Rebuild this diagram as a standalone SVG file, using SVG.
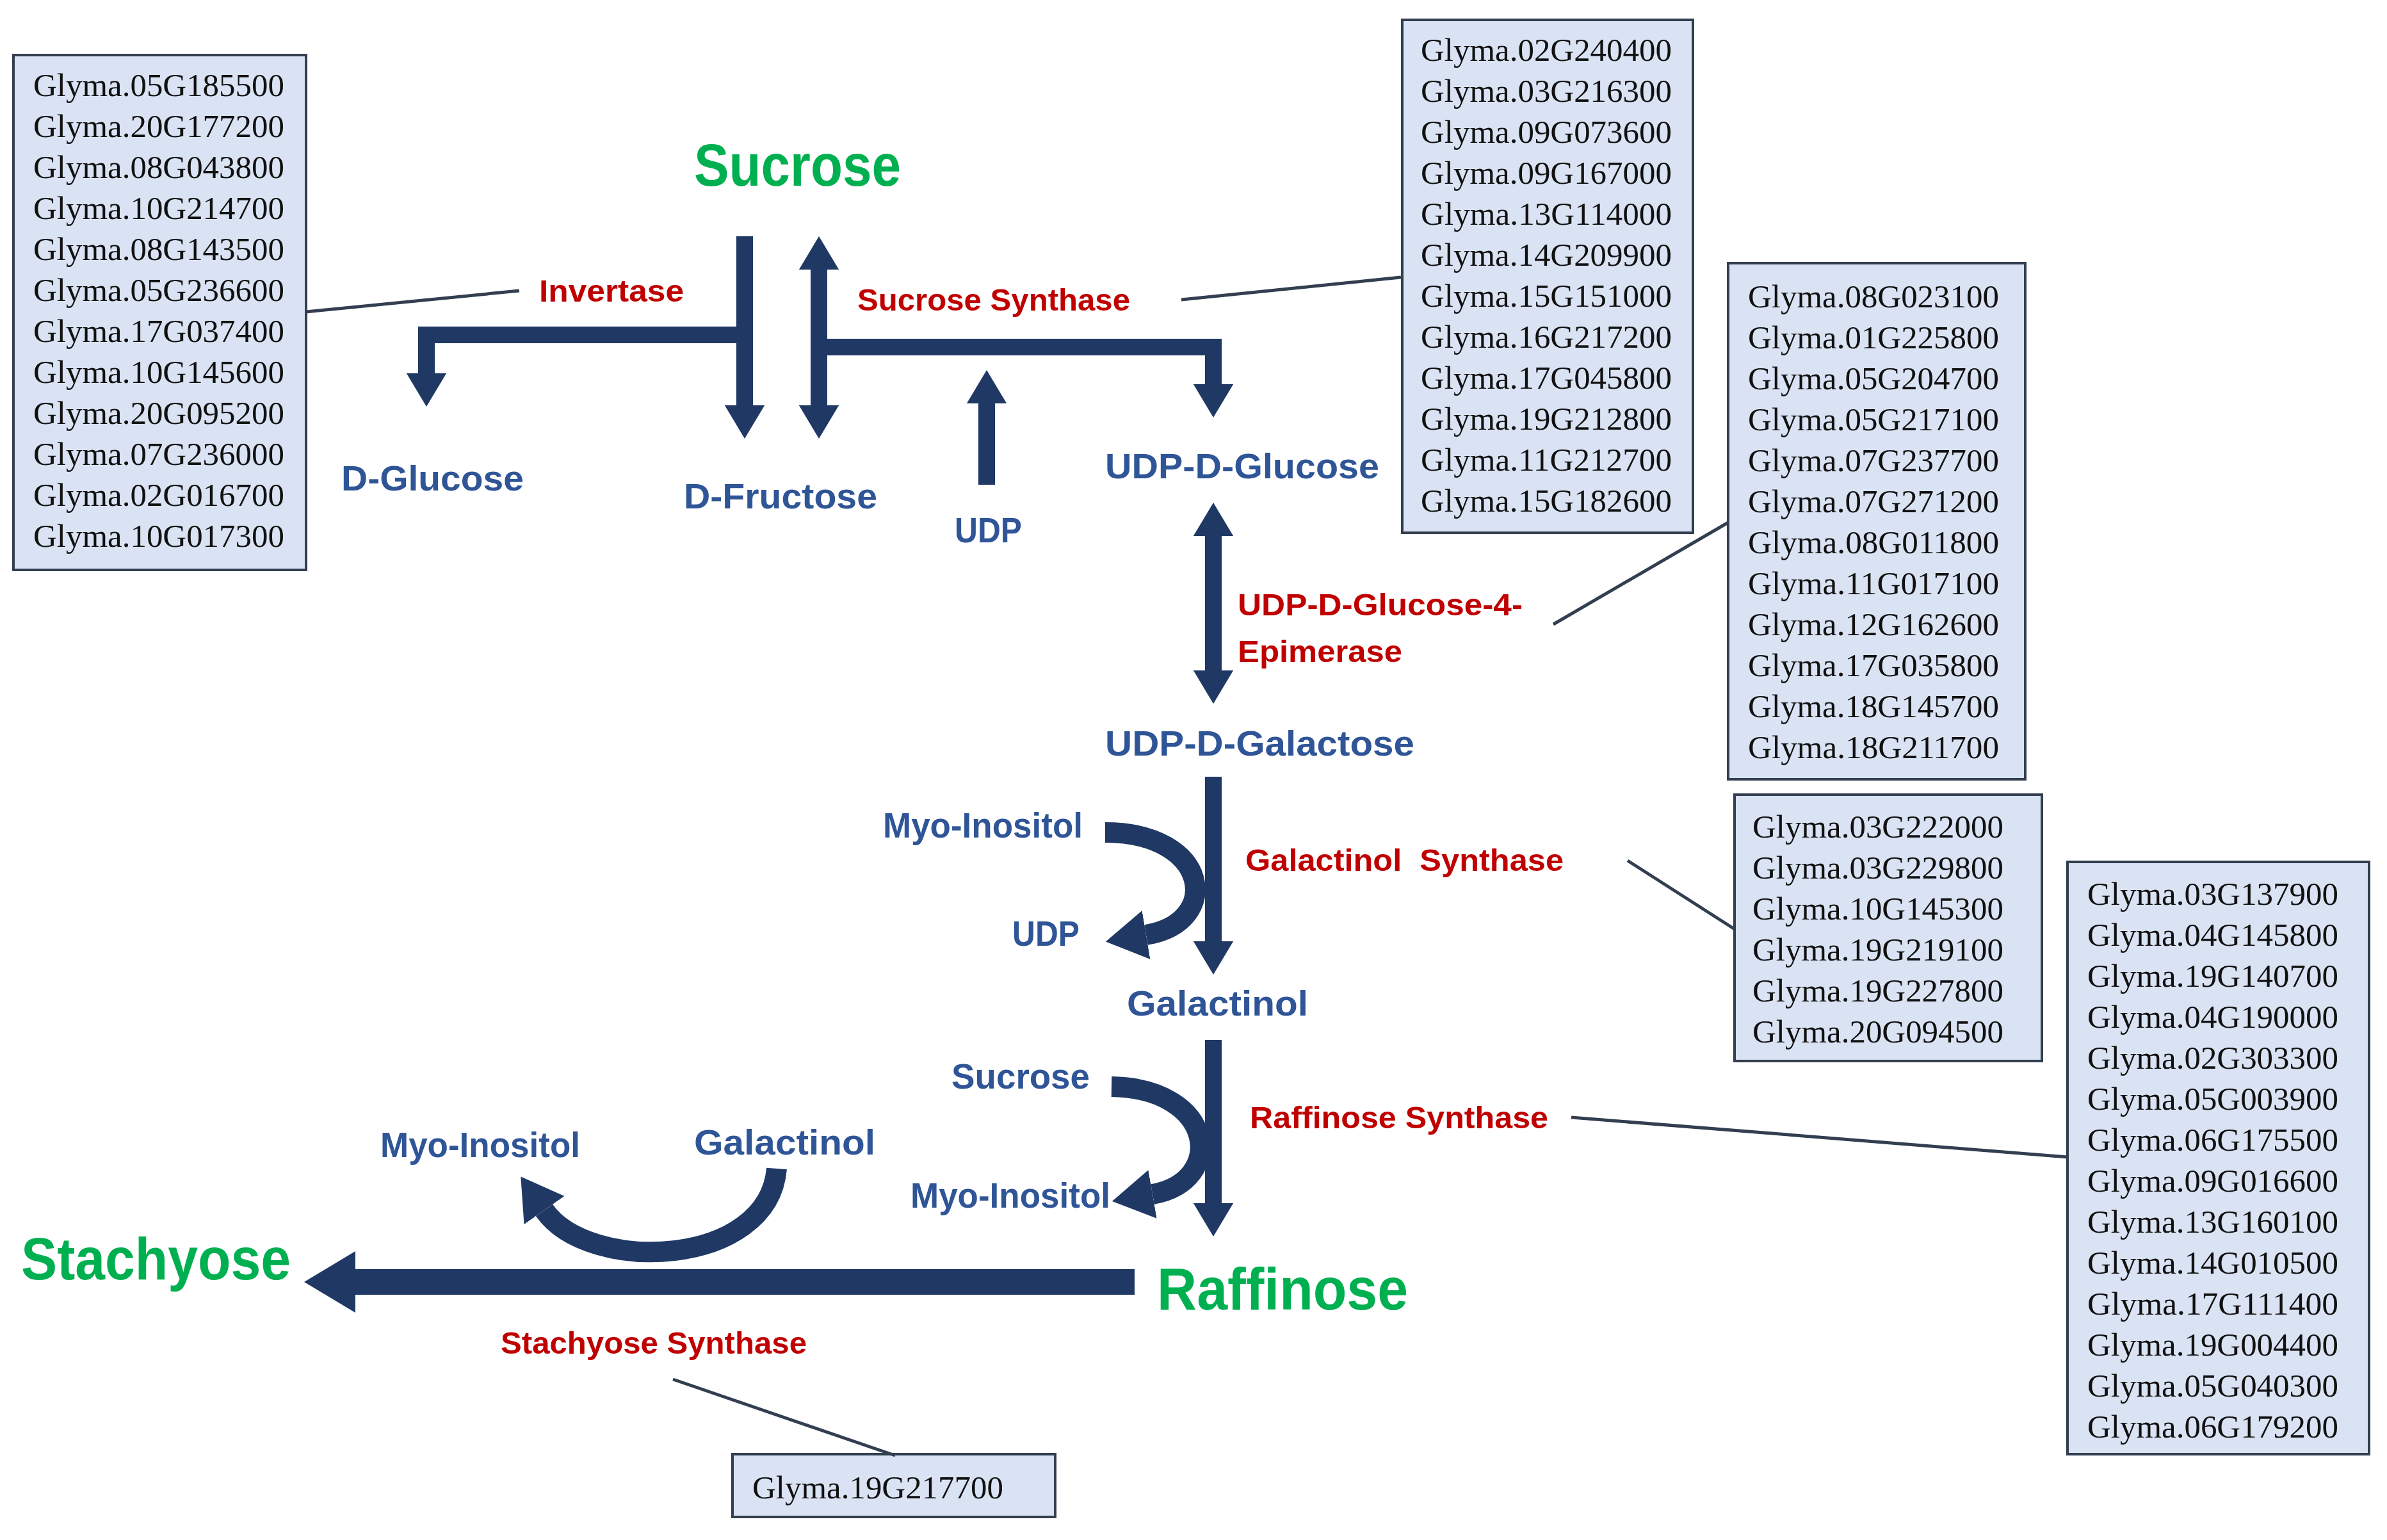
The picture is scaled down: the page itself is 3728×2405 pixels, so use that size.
<svg xmlns="http://www.w3.org/2000/svg" width="3728" height="2405" viewBox="0 0 3728 2405">
<style>
.box{fill:#DAE3F3;stroke:#333F50;stroke-width:4}
.g{font-family:"Liberation Serif",serif;font-size:50px;fill:#111}
.b{font-family:"Liberation Sans",sans-serif;font-weight:bold;fill:#2F5597;font-size:56px}
.r{font-family:"Liberation Sans",sans-serif;font-weight:bold;fill:#C00000;font-size:48px}
.gr{font-family:"Liberation Sans",sans-serif;font-weight:bold;fill:#00B050;font-size:92px}
.a{fill:none;stroke:#203864;stroke-width:26}
.ln{stroke:#333F50;stroke-width:5;fill:none}
</style>
<defs>
<marker id="h" viewBox="0 0 10 10" refX="0" refY="5" markerWidth="2" markerHeight="2.4" preserveAspectRatio="none" orient="auto-start-reverse"><path d="M0,0 L10,5 L0,10z" fill="#203864"/></marker>
</defs>
<rect width="3728" height="2405" fill="#fff"/>
<g id="box1"><rect class="box" x="21" y="86" width="457" height="804"/>
<g class="g">
<text x="52" y="150" textLength="392" lengthAdjust="spacingAndGlyphs">Glyma.05G185500</text>
<text x="52" y="214" textLength="392" lengthAdjust="spacingAndGlyphs">Glyma.20G177200</text>
<text x="52" y="278" textLength="392" lengthAdjust="spacingAndGlyphs">Glyma.08G043800</text>
<text x="52" y="342" textLength="392" lengthAdjust="spacingAndGlyphs">Glyma.10G214700</text>
<text x="52" y="406" textLength="392" lengthAdjust="spacingAndGlyphs">Glyma.08G143500</text>
<text x="52" y="470" textLength="392" lengthAdjust="spacingAndGlyphs">Glyma.05G236600</text>
<text x="52" y="534" textLength="392" lengthAdjust="spacingAndGlyphs">Glyma.17G037400</text>
<text x="52" y="598" textLength="392" lengthAdjust="spacingAndGlyphs">Glyma.10G145600</text>
<text x="52" y="662" textLength="392" lengthAdjust="spacingAndGlyphs">Glyma.20G095200</text>
<text x="52" y="726" textLength="392" lengthAdjust="spacingAndGlyphs">Glyma.07G236000</text>
<text x="52" y="790" textLength="392" lengthAdjust="spacingAndGlyphs">Glyma.02G016700</text>
<text x="52" y="854" textLength="392" lengthAdjust="spacingAndGlyphs">Glyma.10G017300</text>
</g></g>
<g id="box2"><rect class="box" x="2190" y="31" width="454" height="801"/>
<g class="g">
<text x="2219" y="95" textLength="392" lengthAdjust="spacingAndGlyphs">Glyma.02G240400</text>
<text x="2219" y="159" textLength="392" lengthAdjust="spacingAndGlyphs">Glyma.03G216300</text>
<text x="2219" y="223" textLength="392" lengthAdjust="spacingAndGlyphs">Glyma.09G073600</text>
<text x="2219" y="287" textLength="392" lengthAdjust="spacingAndGlyphs">Glyma.09G167000</text>
<text x="2219" y="351" textLength="392" lengthAdjust="spacingAndGlyphs">Glyma.13G114000</text>
<text x="2219" y="415" textLength="392" lengthAdjust="spacingAndGlyphs">Glyma.14G209900</text>
<text x="2219" y="479" textLength="392" lengthAdjust="spacingAndGlyphs">Glyma.15G151000</text>
<text x="2219" y="543" textLength="392" lengthAdjust="spacingAndGlyphs">Glyma.16G217200</text>
<text x="2219" y="607" textLength="392" lengthAdjust="spacingAndGlyphs">Glyma.17G045800</text>
<text x="2219" y="671" textLength="392" lengthAdjust="spacingAndGlyphs">Glyma.19G212800</text>
<text x="2219" y="735" textLength="392" lengthAdjust="spacingAndGlyphs">Glyma.11G212700</text>
<text x="2219" y="799" textLength="392" lengthAdjust="spacingAndGlyphs">Glyma.15G182600</text>
</g></g>
<g id="box3"><rect class="box" x="2699" y="411" width="464" height="806"/>
<g class="g">
<text x="2730" y="480" textLength="392" lengthAdjust="spacingAndGlyphs">Glyma.08G023100</text>
<text x="2730" y="544" textLength="392" lengthAdjust="spacingAndGlyphs">Glyma.01G225800</text>
<text x="2730" y="608" textLength="392" lengthAdjust="spacingAndGlyphs">Glyma.05G204700</text>
<text x="2730" y="672" textLength="392" lengthAdjust="spacingAndGlyphs">Glyma.05G217100</text>
<text x="2730" y="736" textLength="392" lengthAdjust="spacingAndGlyphs">Glyma.07G237700</text>
<text x="2730" y="800" textLength="392" lengthAdjust="spacingAndGlyphs">Glyma.07G271200</text>
<text x="2730" y="864" textLength="392" lengthAdjust="spacingAndGlyphs">Glyma.08G011800</text>
<text x="2730" y="928" textLength="392" lengthAdjust="spacingAndGlyphs">Glyma.11G017100</text>
<text x="2730" y="992" textLength="392" lengthAdjust="spacingAndGlyphs">Glyma.12G162600</text>
<text x="2730" y="1056" textLength="392" lengthAdjust="spacingAndGlyphs">Glyma.17G035800</text>
<text x="2730" y="1120" textLength="392" lengthAdjust="spacingAndGlyphs">Glyma.18G145700</text>
<text x="2730" y="1184" textLength="392" lengthAdjust="spacingAndGlyphs">Glyma.18G211700</text>
</g></g>
<g id="box4"><rect class="box" x="2709" y="1241" width="480" height="416"/>
<g class="g">
<text x="2737" y="1308" textLength="392" lengthAdjust="spacingAndGlyphs">Glyma.03G222000</text>
<text x="2737" y="1372" textLength="392" lengthAdjust="spacingAndGlyphs">Glyma.03G229800</text>
<text x="2737" y="1436" textLength="392" lengthAdjust="spacingAndGlyphs">Glyma.10G145300</text>
<text x="2737" y="1500" textLength="392" lengthAdjust="spacingAndGlyphs">Glyma.19G219100</text>
<text x="2737" y="1564" textLength="392" lengthAdjust="spacingAndGlyphs">Glyma.19G227800</text>
<text x="2737" y="1628" textLength="392" lengthAdjust="spacingAndGlyphs">Glyma.20G094500</text>
</g></g>
<g id="box5"><rect class="box" x="3229" y="1346" width="471" height="925"/>
<g class="g">
<text x="3260" y="1413" textLength="392" lengthAdjust="spacingAndGlyphs">Glyma.03G137900</text>
<text x="3260" y="1477" textLength="392" lengthAdjust="spacingAndGlyphs">Glyma.04G145800</text>
<text x="3260" y="1541" textLength="392" lengthAdjust="spacingAndGlyphs">Glyma.19G140700</text>
<text x="3260" y="1605" textLength="392" lengthAdjust="spacingAndGlyphs">Glyma.04G190000</text>
<text x="3260" y="1669" textLength="392" lengthAdjust="spacingAndGlyphs">Glyma.02G303300</text>
<text x="3260" y="1733" textLength="392" lengthAdjust="spacingAndGlyphs">Glyma.05G003900</text>
<text x="3260" y="1797" textLength="392" lengthAdjust="spacingAndGlyphs">Glyma.06G175500</text>
<text x="3260" y="1861" textLength="392" lengthAdjust="spacingAndGlyphs">Glyma.09G016600</text>
<text x="3260" y="1925" textLength="392" lengthAdjust="spacingAndGlyphs">Glyma.13G160100</text>
<text x="3260" y="1989" textLength="392" lengthAdjust="spacingAndGlyphs">Glyma.14G010500</text>
<text x="3260" y="2053" textLength="392" lengthAdjust="spacingAndGlyphs">Glyma.17G111400</text>
<text x="3260" y="2117" textLength="392" lengthAdjust="spacingAndGlyphs">Glyma.19G004400</text>
<text x="3260" y="2181" textLength="392" lengthAdjust="spacingAndGlyphs">Glyma.05G040300</text>
<text x="3260" y="2245" textLength="392" lengthAdjust="spacingAndGlyphs">Glyma.06G179200</text>
</g></g>
<g id="box6"><rect class="box" x="1144" y="2271" width="504" height="98"/>
<text class="g" x="1175" y="2340" textLength="392" lengthAdjust="spacingAndGlyphs">Glyma.19G217700</text></g>

<g id="labels">
<text class="gr" x="1084" y="290" textLength="323" lengthAdjust="spacingAndGlyphs">Sucrose</text>
<text class="r" x="842" y="471" textLength="226" lengthAdjust="spacingAndGlyphs">Invertase</text>
<text class="r" x="1339" y="485" textLength="426" lengthAdjust="spacingAndGlyphs">Sucrose Synthase</text>
<text class="b" x="533" y="766" textLength="285" lengthAdjust="spacingAndGlyphs">D-Glucose</text>
<text class="b" x="1068" y="794" textLength="302" lengthAdjust="spacingAndGlyphs">D-Fructose</text>
<text class="b" x="1491" y="847" textLength="105" lengthAdjust="spacingAndGlyphs">UDP</text>
<text class="b" x="1726" y="747" textLength="428" lengthAdjust="spacingAndGlyphs">UDP-D-Glucose</text>
<text class="r" x="1933" y="961" textLength="445" lengthAdjust="spacingAndGlyphs">UDP-D-Glucose-4-</text>
<text class="r" x="1933" y="1034" textLength="257" lengthAdjust="spacingAndGlyphs">Epimerase</text>
<text class="b" x="1726" y="1180" textLength="483" lengthAdjust="spacingAndGlyphs">UDP-D-Galactose</text>
<text class="b" x="1379" y="1308" textLength="312" lengthAdjust="spacingAndGlyphs">Myo-Inositol</text>
<text class="b" x="1581" y="1477" textLength="105" lengthAdjust="spacingAndGlyphs">UDP</text>
<text class="r" x="1945" y="1360" textLength="497" lengthAdjust="spacingAndGlyphs" xml:space="preserve">Galactinol  Synthase</text>
<text class="b" x="1760" y="1586" textLength="283" lengthAdjust="spacingAndGlyphs">Galactinol</text>
<text class="b" x="1486" y="1700" textLength="216" lengthAdjust="spacingAndGlyphs">Sucrose</text>
<text class="b" x="1422" y="1886" textLength="312" lengthAdjust="spacingAndGlyphs">Myo-Inositol</text>
<text class="r" x="1952" y="1762" textLength="466" lengthAdjust="spacingAndGlyphs">Raffinose Synthase</text>
<text class="gr" x="1807" y="2045" textLength="392" lengthAdjust="spacingAndGlyphs">Raffinose</text>
<text class="gr" x="33" y="1998" textLength="421" lengthAdjust="spacingAndGlyphs">Stachyose</text>
<text class="b" x="594" y="1807" textLength="312" lengthAdjust="spacingAndGlyphs">Myo-Inositol</text>
<text class="b" x="1084" y="1803" textLength="283" lengthAdjust="spacingAndGlyphs">Galactinol</text>
<text class="r" x="782" y="2114" textLength="478" lengthAdjust="spacingAndGlyphs">Stachyose Synthase</text>
</g>

<g id="connectors">
<path class="a" d="M1163,369 V633" marker-end="url(#h)"/>
<path class="a" d="M1163,523 H666 V583" marker-end="url(#h)"/>
<path class="a" d="M1279,421 V633" marker-start="url(#h)" marker-end="url(#h)"/>
<path class="a" d="M1279,542 H1895 V600" marker-end="url(#h)"/>
<path class="a" d="M1541,757 V630" marker-end="url(#h)"/>
<path class="a" d="M1895,837 V1047" marker-start="url(#h)" marker-end="url(#h)"/>
<path class="a" d="M1895,1213 V1470" marker-end="url(#h)"/>
<path class="a" d="M1895,1624 V1879" marker-end="url(#h)"/>
<path d="M1772,2002 H555" stroke="#203864" stroke-width="40" fill="none" marker-end="url(#h)" style="stroke-width:40"/>
<path d="M1726,1300 C1890,1300 1910,1440 1790,1460" stroke="#203864" stroke-width="32" fill="none" marker-end="url(#h)"/>
<path d="M1736,1697 C1900,1700 1915,1845 1800,1865" stroke="#203864" stroke-width="32" fill="none" marker-end="url(#h)"/>
<path d="M1213,1825 C1200,1980 920,1990 850,1890" stroke="#203864" stroke-width="32" fill="none" marker-end="url(#h)"/>
<path class="ln" d="M478,487 L811,454"/>
<path class="ln" d="M1845,468 L2188,433"/>
<path class="ln" d="M2426,975 L2699,816"/>
<path class="ln" d="M2542,1344 L2709,1451"/>
<path class="ln" d="M2454,1745 L3229,1807"/>
<path class="ln" d="M1051,2154 L1398,2273"/>
</g>
</svg>
